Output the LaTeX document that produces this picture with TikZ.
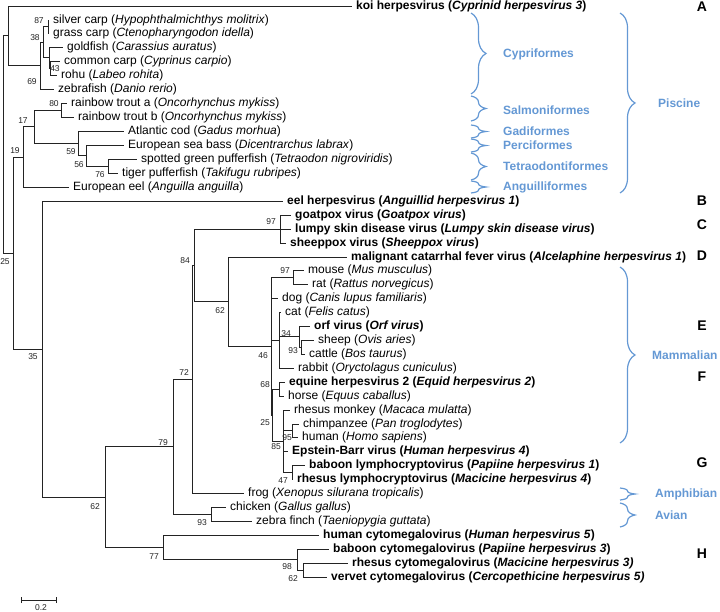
\documentclass[tikz,border=0pt]{standalone}
\usepackage{fontspec}
\setmainfont{Liberation Sans}
\usetikzlibrary{decorations.pathreplacing}
\definecolor{treecol}{RGB}{35,35,35}
\definecolor{grpblue}{RGB}{100,152,212}
\newcommand{\leaffnt}{\fontsize{12}{14}\selectfont}
\newcommand{\bsfnt}{\fontsize{8.5}{10}\selectfont}
\newcommand{\grpfnt}{\fontsize{12}{14}\selectfont\bfseries}
\newcommand{\letfnt}{\fontsize{14}{16}\selectfont\bfseries}
\begin{document}
\begin{tikzpicture}[x=1pt,y=-1pt,
  br/.style={draw=treecol, line width=0.9pt},
  leaf/.style={anchor=west, inner xsep=4pt, inner ysep=0pt, text height=8.6pt, text depth=2.4pt, font=\leaffnt},
  bs/.style={font=\bsfnt, inner sep=0pt, text=treecol},
  grp/.style={anchor=west, inner sep=0pt, font=\grpfnt, text=grpblue},
  brc/.style={draw=grpblue, line width=1.2pt, decorate, decoration={brace, amplitude=15pt}},
  letter/.style={font=\letfnt, inner sep=0pt}]
\useasboundingbox (0,0) rectangle (720,612);

% ---------- internal nodes ----------
\coordinate (root) at (3,144.4);
\coordinate (nA) at (8,35.75);
\coordinate (n69) at (40,65.5);
\coordinate (n38) at (43,42);
\coordinate (n87) at (48,26.5);
\coordinate (nG) at (49,57.5);
\coordinate (n43) at (50,68);
\coordinate (n25) at (13,253);
\coordinate (n19) at (23,157);
\coordinate (n17) at (34,126.5);
\coordinate (n80) at (61,110);
\coordinate (n59) at (78,143);
\coordinate (n56) at (86,155.5);
\coordinate (n76) at (108,166);
\coordinate (n35) at (42,349);
\coordinate (n62a) at (105,497);
\coordinate (n79) at (173,446.5);
\coordinate (n72) at (192,379.25);
\coordinate (n84) at (194,265.5);
\coordinate (ngoat) at (280,229);
\coordinate (n62b) at (228,301.6);
\coordinate (n46) at (271,346);
\coordinate (nmr) at (293,277);
\coordinate (ncat) at (279,340);
\coordinate (n34) at (299,336.5);
\coordinate (n93) at (301,347);
\coordinate (n25m) at (272,415);
\coordinate (n68) at (279,389);
\coordinate (n85) at (283,441);
\coordinate (n95) at (292,430.5);
\coordinate (nlym) at (292,472);
\coordinate (navian) at (211,514);
\coordinate (n77) at (163,547.25);
\coordinate (n98) at (297,559.5);
\coordinate (n62c) at (303,570);

% ---------- leaves ----------
\node[leaf] (koi) at (352,6) {\bfseries koi herpesvirus (\textit{Cyprinid herpesvirus 3})};
\node[leaf] (silver) at (49,20) {silver carp (\textit{Hypophthalmichthys molitrix})};
\node[leaf] (grass) at (49,33) {grass carp (\textit{Ctenopharyngodon idella})};
\node[leaf] (goldfish) at (63,47) {goldfish (\textit{Carassius auratus})};
\node[leaf] (common) at (60,61) {common carp (\textit{Cyprinus carpio})};
\node[leaf] (rohu) at (57,75) {rohu (\textit{Labeo rohita})};
\node[leaf] (zebrafish) at (54,89) {zebrafish (\textit{Danio rerio})};
\node[leaf] (trouta) at (67,103) {rainbow trout a (\textit{Oncorhynchus mykiss})};
\node[leaf] (troutb) at (74,117) {rainbow trout b (\textit{Oncorhynchus mykiss})};
\node[leaf] (cod) at (124,131) {Atlantic cod (\textit{Gadus morhua})};
\node[leaf] (bass) at (124,145) {European sea bass (\textit{Dicentrarchus labrax})};
\node[leaf] (spotted) at (137,159) {spotted green pufferfish (\textit{Tetraodon nigroviridis})};
\node[leaf] (tiger) at (118,173) {tiger pufferfish (\textit{Takifugu rubripes})};
\node[leaf] (eel) at (69,187) {European eel (\textit{Anguilla anguilla})};
\node[leaf] (eelhv) at (283,201) {\bfseries eel herpesvirus (\textit{Anguillid herpesvirus 1})};
\node[leaf] (goatpox) at (291,215) {\bfseries goatpox virus (\textit{Goatpox virus})};
\node[leaf] (lumpy) at (291,229) {\bfseries lumpy skin disease virus (\textit{Lumpy skin disease virus})};
\node[leaf] (sheeppox) at (286,243) {\bfseries sheeppox virus (\textit{Sheeppox virus})};
\node[leaf] (mcf) at (347,257) {\bfseries malignant catarrhal fever virus (\textit{Alcelaphine herpesvirus 1})};
\node[leaf] (mouse) at (304,270) {mouse (\textit{Mus musculus})};
\node[leaf] (rat) at (308,284) {rat (\textit{Rattus norvegicus})};
\node[leaf] (dog) at (278,298) {dog (\textit{Canis lupus familiaris})};
\node[leaf] (cat) at (281,312) {cat (\textit{Felis catus})};
\node[leaf] (orf) at (310,326) {\bfseries orf virus (\textit{Orf virus})};
\node[leaf] (sheep) at (314,340) {sheep (\textit{Ovis aries})};
\node[leaf] (cattle) at (305,354) {cattle (\textit{Bos taurus})};
\node[leaf] (rabbit) at (294,368) {rabbit (\textit{Oryctolagus cuniculus})};
\node[leaf] (equine) at (285,382) {\bfseries equine herpesvirus 2 (\textit{Equid herpesvirus 2})};
\node[leaf] (horse) at (284,396) {horse (\textit{Equus caballus})};
\node[leaf] (rhesusm) at (290,410) {rhesus monkey (\textit{Macaca mulatta})};
\node[leaf] (chimp) at (299,424) {chimpanzee (\textit{Pan troglodytes})};
\node[leaf] (human) at (298,437) {human (\textit{Homo sapiens})};
\node[leaf] (ebv) at (288,451) {\bfseries Epstein-Barr virus (\textit{Human herpesvirus 4})};
\node[leaf] (blym) at (305,465) {\bfseries baboon lymphocryptovirus (\textit{Papiine herpesvirus 1})};
\node[leaf] (rlym) at (293,479) {\bfseries rhesus lymphocryptovirus (\textit{Macicine herpesvirus 4})};
\node[leaf] (frog) at (244,493) {frog (\textit{Xenopus silurana tropicalis})};
\node[leaf] (chicken) at (226,507) {chicken (\textit{Gallus gallus})};
\node[leaf] (finch) at (252,521) {zebra finch (\textit{Taeniopygia guttata})};
\node[leaf] (hcmv) at (319,535) {\bfseries human cytomegalovirus (\textit{Human herpesvirus 5})};
\node[leaf] (bcmv) at (329,549) {\bfseries baboon cytomegalovirus (\textit{Papiine herpesvirus 3})};
\node[leaf] (rcmv) at (348,563) {\bfseries rhesus cytomegalovirus (\textit{Macicine herpesvirus 3)}};
\node[leaf] (vcmv) at (327,577) {\bfseries vervet cytomegalovirus (\textit{Cercopethicine herpesvirus 5)}};

% ---------- branches ----------
\draw[br] (root) |- (nA);
\draw[br] (root) |- (n25);
\draw[br] (nA) |- (koi.west);
\draw[br] (nA) |- (n69);
\draw[br] (n69) |- (n38);
\draw[br] (n69) |- (zebrafish.west);
\draw[br] (n38) |- (n87);
\draw[br] (n38) |- (nG);
\draw[br] (n87) |- (silver.west);
\draw[br] (n87) |- (grass.west);
\draw[br] (nG) |- (goldfish.west);
\draw[br] (nG) |- (n43);
\draw[br] (n43) |- (common.west);
\draw[br] (n43) |- (rohu.west);
\draw[br] (n25) |- (n19);
\draw[br] (n25) |- (n35);
\draw[br] (n19) |- (n17);
\draw[br] (n19) |- (eel.west);
\draw[br] (n17) |- (n80);
\draw[br] (n17) |- (n59);
\draw[br] (n80) |- (trouta.west);
\draw[br] (n80) |- (troutb.west);
\draw[br] (n59) |- (cod.west);
\draw[br] (n59) |- (n56);
\draw[br] (n56) |- (bass.west);
\draw[br] (n56) |- (n76);
\draw[br] (n76) |- (spotted.west);
\draw[br] (n76) |- (tiger.west);
\draw[br] (n35) |- (eelhv.west);
\draw[br] (n35) |- (n62a);
\draw[br] (n62a) |- (n79);
\draw[br] (n62a) |- (n77);
\draw[br] (n79) |- (n72);
\draw[br] (n79) |- (navian);
\draw[br] (n72) |- (n84);
\draw[br] (n72) |- (frog.west);
\draw[br] (n84) |- (ngoat);
\draw[br] (n84) |- (n62b);
\draw[br] (ngoat) |- (goatpox.west);
\draw[br] (ngoat) |- (lumpy.west);
\draw[br] (ngoat) |- (sheeppox.west);
\draw[br] (n62b) |- (mcf.west);
\draw[br] (n62b) |- (n46);
\draw[br] (n46) |- (nmr);
\draw[br] (n46) |- (dog.west);
\draw[br] (n46) |- (ncat);
\draw[br] (n46) |- (n25m);
\draw[br] (nmr) |- (mouse.west);
\draw[br] (nmr) |- (rat.west);
\draw[br] (ncat) |- (cat.west);
\draw[br] (ncat) |- (n34);
\draw[br] (ncat) |- (rabbit.west);
\draw[br] (n34) |- (orf.west);
\draw[br] (n34) |- (n93);
\draw[br] (n93) |- (sheep.west);
\draw[br] (n93) |- (cattle.west);
\draw[br] (n25m) |- (n68);
\draw[br] (n25m) |- (n85);
\draw[br] (n68) |- (equine.west);
\draw[br] (n68) |- (horse.west);
\draw[br] (n85) |- (rhesusm.west);
\draw[br] (n85) |- (n95);
\draw[br] (n85) |- (ebv.west);
\draw[br] (n85) |- (nlym);
\draw[br] (n95) |- (chimp.west);
\draw[br] (n95) |- (human.west);
\draw[br] (nlym) |- (blym.west);
\draw[br] (nlym) |- (rlym.west);
\draw[br] (navian) |- (chicken.west);
\draw[br] (navian) |- (finch.west);
\draw[br] (n77) |- (hcmv.west);
\draw[br] (n77) |- (n98);
\draw[br] (n98) |- (bcmv.west);
\draw[br] (n98) |- (n62c);
\draw[br] (n62c) |- (rcmv.west);
\draw[br] (n62c) |- (vcmv.west);

% ---------- bootstrap values ----------
\node[bs] (b87) at (39,21) {87};
\node[bs] (b38) at (35,38) {38};
\node[bs] (b43) at (55,69) {43};
\node[bs] (b69) at (32,82) {69};
\node[bs] (b80) at (54,104) {80};
\node[bs] (b17) at (23,121) {17};
\node[bs] (b19) at (15,151) {19};
\node[bs] (b25r) at (5,262) {25};
\node[bs] (b59) at (71,152) {59};
\node[bs] (b56) at (79,165) {56};
\node[bs] (b76) at (100,175) {76};
\node[bs] (b35) at (33,357) {35};
\node[bs] (b97g) at (271,222) {97};
\node[bs] (b84) at (185,261) {84};
\node[bs] (b97m) at (285,271) {97};
\node[bs] (b62b) at (220,311) {62};
\node[bs] (b46) at (263,356) {46};
\node[bs] (b34) at (286,334) {34};
\node[bs] (b93c) at (293,351) {93};
\node[bs] (b72) at (184,373) {72};
\node[bs] (b68) at (265,385) {68};
\node[bs] (b25m) at (265,423) {25};
\node[bs] (b95) at (287,438) {95};
\node[bs] (b85) at (276,447) {85};
\node[bs] (b47) at (283,481) {47};
\node[bs] (b79) at (163,443) {79};
\node[bs] (b62a) at (95,507) {62};
\node[bs] (b93a) at (202,523) {93};
\node[bs] (b77) at (154,557) {77};
\node[bs] (b98) at (287,567) {98};
\node[bs] (b62c) at (293,579) {62};

% ---------- group braces ----------
\draw[brc] (471,13) -- (471,94);
\draw[brc] (471,96) -- (471,121);
\draw[brc] (471,125) -- (471,138);
\draw[brc] (471,139) -- (471,152);
\draw[brc] (471,153) -- (471,180);
\draw[brc] (471,181) -- (471,193);
\draw[brc] (620,13) -- (620,193);
\draw[brc] (620,267) -- (620,443);
\draw[brc] (620,488) -- (620,500);
\draw[brc] (620,503) -- (620,527);

\node[grp] (gcyp) at (503,54) {Cypriformes};
\node[grp] (gsal) at (503,110) {Salmoniformes};
\node[grp] (ggad) at (503,131) {Gadiformes};
\node[grp] (gper) at (503,145) {Perciformes};
\node[grp] (gtet) at (503,166) {Tetraodontiformes};
\node[grp] (gang) at (503,187) {Anguilliformes};
\node[grp] (gpis) at (658,103) {Piscine};
\node[grp] (gmam) at (652,355) {Mammalian};
\node[grp] (gamp) at (655,494) {Amphibian};
\node[grp] (gavi) at (655,515) {Avian};

% ---------- letters ----------
\node[letter] (LA) at (702,7) {A};
\node[letter] (LB) at (702,201) {B};
\node[letter] (LC) at (702,225) {C};
\node[letter] (LD) at (702,256) {D};
\node[letter] (LE) at (702,326) {E};
\node[letter] (LF) at (702,377) {F};
\node[letter] (LG) at (702,463) {G};
\node[letter] (LH) at (702,554) {H};

% ---------- scale bar ----------
\coordinate (sb1) at (21,600);
\coordinate (sb2) at (56,600);
\draw[br] (sb1) -- (sb2);
\draw[br] ([yshift=-3pt]sb1) -- ([yshift=3pt]sb1);
\draw[br] ([yshift=-3pt]sb2) -- ([yshift=3pt]sb2);
\node[bs] (sbl) at (41,608) {0.2};
\end{tikzpicture}
\end{document}
